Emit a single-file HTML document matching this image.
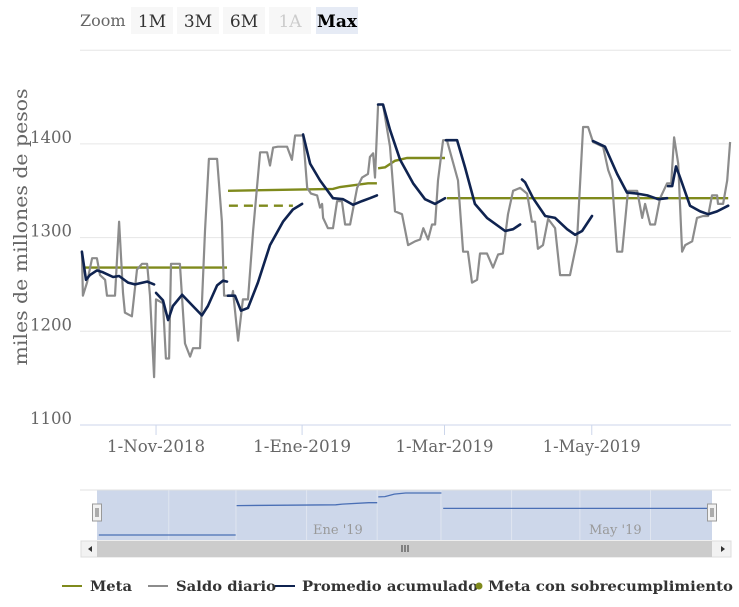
<!DOCTYPE html>
<html><head><meta charset="utf-8"><style>
html,body{margin:0;padding:0;background:#fff;}
svg{display:block;font-family:"DejaVu Serif","Liberation Serif",serif;}
</style></head><body>
<svg id="chart" width="739" height="607" viewBox="0 0 739 607">
  <g>
    <text x="80" y="26" font-size="16" fill="#666">Zoom</text>
    <g><rect x="131" y="7" width="42" height="27" fill="#f7f7f7"/><text x="152" y="27" font-size="17" fill="#333" text-anchor="middle">1M</text></g>
    <g><rect x="177" y="7" width="42" height="27" fill="#f7f7f7"/><text x="198" y="27" font-size="17" fill="#333" text-anchor="middle">3M</text></g>
    <g><rect x="223" y="7" width="42" height="27" fill="#f7f7f7"/><text x="244" y="27" font-size="17" fill="#333" text-anchor="middle">6M</text></g>
    <g><rect x="269" y="7" width="42" height="27" fill="#f7f7f7"/><text x="290" y="27" font-size="17" fill="#ccc" text-anchor="middle">1A</text></g>
    <g><rect x="316" y="7" width="42" height="27" fill="#e6ebf5"/><text x="337" y="27" font-size="17" font-weight="bold" fill="#000" text-anchor="middle">Max</text></g>
  </g>
  <g id="grid"></g>
  <g id="ylabels"></g>
  <text transform="translate(27,227) rotate(-90)" font-size="19" fill="#666" text-anchor="middle" textLength="277" lengthAdjust="spacingAndGlyphs">miles de millones de pesos</text>
  <g id="xaxis"></g>
  <g id="series"></g>
  <g id="nav"></g>
  <g id="legend"></g>
</svg>
<script>
const yTicks = [1100, 1200, 1300, 1400, 1500];
const xTickDays = [31.5, 92, 151, 212];
const xTickLabels = ["1-Nov-2018", "1-Ene-2019", "1-Mar-2019", "1-May-2019"];
const saldoDays = [0.8,1.2,2.9,5,7,8.3,10.4,11.2,14.5,16.2,17.8,18.6,21.5,23.6,25.7,27.8,29,30.7,31.5,34.4,35.6,36.9,37.7,41.4,43.5,45.6,46.8,49.7,51.8,53.4,56.8,58.8,59.7,63,63.4,65.5,67.5,69.6,71.7,74.6,77.5,78.7,80,82,85.8,87.8,89.1,92.4,94.1,95.7,98.2,99.4,100.3,100.7,102.7,104.8,106.5,108.5,109.8,111.9,114.8,116.8,119.3,120.1,121.4,122.2,123.5,125.5,128.4,130.5,133.4,135.9,138.8,140.9,142.2,144.2,145.8,147.1,148.3,150.4,152,156.6,158.7,160.7,162.4,164.5,165.7,168.6,171.1,173.2,175.2,177.3,179.4,182.3,185.2,187.2,188.5,189.7,191.8,193.9,196.8,198.9,203,205.9,208.4,210.5,212.5,216.7,218.8,220.4,222.5,224.6,227,230.8,232.9,234.1,236.2,238.2,240.3,243.2,244.9,246.1,247.8,249.4,250.7,253.6,255.6,258.1,260.2,261.8,263.9,264.3,266.4,268.1,269.3];
const saldoValues = [1285,1238,1252,1278,1278,1260,1255,1238,1238,1317,1241,1220,1216,1266,1272,1272,1238,1151,1234,1230,1171,1171,1272,1272,1187,1173,1182,1182,1307,1384,1384,1317,1238,1238,1243,1190,1234,1234,1307,1391,1391,1377,1396,1397,1397,1383,1409,1409,1353,1347,1345,1332,1336,1321,1310,1310,1339,1339,1314,1314,1353,1364,1368,1386,1390,1364,1442,1442,1397,1328,1325,1292,1296,1298,1310,1298,1314,1314,1361,1404,1404,1361,1285,1285,1252,1255,1283,1283,1268,1282,1283,1325,1350,1353,1347,1317,1317,1288,1292,1320,1310,1260,1260,1296,1418,1418,1402,1397,1372,1361,1285,1285,1350,1350,1321,1336,1314,1314,1342,1358,1358,1407,1379,1285,1292,1296,1321,1323,1323,1345,1345,1336,1336,1361,1402];
const promDays = [
 [0.8,2.5,4.1,7,9.5,13.7,16.2,19.9,22.8,27.8,30.7],
 [31.5,34.4,36.5,38.5,42.3,46.4,50.5,53,56.8,59.2,60.9],
 [61.3,64.2,66.7,69.6,73.7,78.7,84.1,88.2,92],
 [92.4,95.3,99.4,104.8,109,113.1,116.8,120.1,123],
 [123.5,125.5,128.4,132.6,138,142.9,147.1,151.2],
 [151.6,156.2,159.5,163.6,168.6,176.1,179.4,182.3],
 [183.1,184.4,187.7,192.7,196.8,201.8,205.1,208,212.1],
 [212.5,217.5,222.5,226.6,230.8,235,239.5,243.2],
 [243.6,245.3,246.9,248.6,252.7,256.9,260.2,263.9,268.5]];
const promValues = [
 [1285,1255,1260,1265,1263,1258,1259,1252,1250,1253,1250],
 [1241,1233,1212,1227,1239,1228,1217,1227,1249,1254,1253],
 [1238,1238,1222,1225,1252,1292,1317,1330,1336],
 [1410,1379,1361,1342,1341,1335,1339,1342,1345],
 [1442,1442,1415,1383,1358,1341,1336,1342],
 [1404,1404,1375,1336,1321,1307,1309,1314],
 [1362,1359,1342,1323,1321,1309,1303,1307,1323],
 [1403,1397,1368,1348,1347,1345,1341,1342],
 [1355,1355,1376,1364,1334,1328,1325,1328,1334]];
const metaDays = [[0.8,60.9],[61.3,104.8,107.7,119.3,123],[123.5,126.4,130.5,135.5,151.2],[152,268.5]];
const metaValues = [[1268,1268],[1350,1352,1354,1358,1358],[1374,1375,1382,1385,1385],[1342,1342]];
const sobreDays = [61.7, 88.2];
const sobreValues = [1334, 1334];

const NS = "http://www.w3.org/2000/svg";
function xS(d){ return 80 + d * 2.414; }
function yS(v){ return 425 - (v - 1100) * 0.937; }
function mk(tag, attrs, parent){ const e = document.createElementNS(NS, tag); for (const k in attrs) e.setAttribute(k, attrs[k]); parent.appendChild(e); return e; }
function pts(ds, vs, fx, fy){ return ds.map((d,i)=>fx(d).toFixed(1)+","+fy(vs[i]).toFixed(1)).join(" "); }

const grid = document.getElementById("grid"), yl = document.getElementById("ylabels");
yTicks.forEach(t => {
  const l = mk("line", {x1:80, x2:731, y1:yS(t), y2:yS(t), stroke:"#e6e6e6", "stroke-width":1}, grid);
  
  
  if (t < 1500) {
    const tx = mk("text", {x:72, y:yS(t)-1, "font-size":17, fill:"#666", "text-anchor":"end", textLength:42, lengthAdjust:"spacingAndGlyphs"}, yl);
    tx.textContent = t;
    
    
  }
});
const xa = document.getElementById("xaxis");
mk("line", {x1:80, x2:731, y1:425, y2:425, stroke:"#ccd6eb", "stroke-width":1}, xa);
xTickDays.forEach((d,i) => {
  mk("line", {x1:xS(d), x2:xS(d), y1:425, y2:435, stroke:"#ccd6eb"}, xa);
  const tx = mk("text", {x:xS(d), y:452, "font-size":16.5, fill:"#666", "text-anchor":"middle", textLength:98, lengthAdjust:"spacingAndGlyphs"}, xa);
  tx.textContent = xTickLabels[i];
  
  
});

const s = document.getElementById("series");
metaDays.forEach((ds,i) => {
  const p = mk("polyline", {points:pts(ds, metaValues[i], xS, yS), fill:"none", stroke:"#7f8a1c", "stroke-width":2.4}, s);
  
  
});
const sd = mk("polyline", {points:pts(sobreDays, sobreValues, xS, yS), fill:"none", stroke:"#7f8a1c", "stroke-width":2.4, "stroke-dasharray":"9,6"}, s);


const g = mk("polyline", {points:pts(saldoDays, saldoValues, xS, yS), fill:"none", stroke:"#8c8c8c", "stroke-width":2.2, "stroke-linejoin":"round"}, s);


promDays.forEach((ds,i) => {
  const p = mk("polyline", {points:pts(ds, promValues[i], xS, yS), fill:"none", stroke:"#0f2350", "stroke-width":2.6, "stroke-linejoin":"round", "stroke-linecap":"round"}, s);
  
  
});

// navigator
const nav = document.getElementById("nav");
function nx(d){ return 97 + d * (615/270); }
function ny(v){ return 535 - (v - 1268) * (42/117); }
mk("rect", {x:97, y:490, width:615, height:50, fill:"#cdd7ea"}, nav);
mk("line", {x1:80, x2:731, y1:490, y2:490, stroke:"#e0e0e0"}, nav);
[31.5,61,92,123,151,182,212,243].forEach(d => mk("line", {x1:nx(d), x2:nx(d), y1:490, y2:540, stroke:"#dfe5f0"}, nav));
metaDays.forEach((ds,i) => mk("polyline", {points:pts(ds, metaValues[i], nx, ny), fill:"none", stroke:"#4a6fb5", "stroke-width":1.3}, nav));
const n1 = mk("text", {x:313, y:534, "font-size":13, fill:"#999"}, nav); n1.textContent = "Ene '19";
const n2 = mk("text", {x:589, y:534, "font-size":13, fill:"#999"}, nav); n2.textContent = "May '19";
[97,712].forEach(x => {
  const h = mk("rect", {x:x-4.5, y:504, width:9, height:17, fill:"#f2f2f2", stroke:"#999"}, nav);
  
  
  mk("line", {x1:x-1, x2:x-1, y1:508, y2:517, stroke:"#666"}, nav);
  mk("line", {x1:x+1, x2:x+1, y1:508, y2:517, stroke:"#666"}, nav);
});
const sb = mk("rect", {x:81, y:541, width:650, height:16, fill:"#f2f2f2", stroke:"#ddd"}, nav);


const th = mk("rect", {x:97, y:541, width:615, height:16, fill:"#cccccc"}, nav);


mk("path", {d:"M92,546 L88,549 L92,552 Z", fill:"#333"}, nav);
mk("path", {d:"M721,546 L725,549 L721,552 Z", fill:"#333"}, nav);
[402,405,408].forEach(x => mk("line", {x1:x, x2:x, y1:545, y2:552, stroke:"#333"}, nav));

// legend
const lg = document.getElementById("legend");
const items = [
  {name:"Meta", lx:62, tx:90, w:42, color:"#7f8a1c", key:"legend-meta"},
  {name:"Saldo diario", lx:148, tx:176, w:100, color:"#8c8c8c", key:"legend-saldo-diario"},
  {name:"Promedio acumulado", lx:275, tx:302, w:176, color:"#0f2350", key:"legend-promedio-acumulado"},
  {name:"Meta con sobrecumplimiento", lx:-1, tx:488, w:245, color:"#7f8a1c", key:"legend-meta-sobrecumplimiento"}
];
items.forEach(it => {
  const gg = mk("g", {}, lg);
  
  
  if (it.lx >= 0) mk("line", {x1:it.lx, x2:it.lx+20, y1:586, y2:586, stroke:it.color, "stroke-width":2}, gg);
  else mk("circle", {cx:479, cy:586, r:3.5, fill:it.color}, gg);
  const t = mk("text", {x:it.tx, y:591, "font-size":14, "font-weight":"bold", fill:"#333", textLength:it.w, lengthAdjust:"spacingAndGlyphs"}, gg);
  t.textContent = it.name;
});
</script>
</body></html>
